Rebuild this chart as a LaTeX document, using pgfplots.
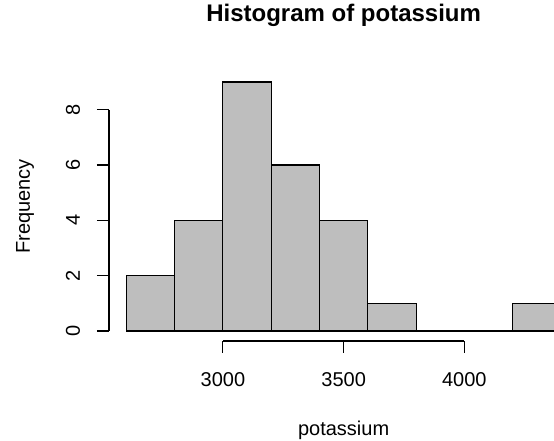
\documentclass[border=0pt]{standalone}
\usepackage{pgfplots}
\pgfplotsset{compat=1.18}
\usepackage{fontspec}
\setmainfont{Liberation Sans}
\definecolor{rgray}{RGB}{190,190,190}
\begin{document}
\begin{tikzpicture}
\useasboundingbox (0,0) rectangle (554pt,441pt);
\clip (0,0) rectangle (554pt,441pt);
\begin{axis}[
  at={(109pt,100pt)}, anchor=south west,
  scale only axis, width=469.3pt, height=269pt,
  xmin=2528, xmax=4472, ymin=-0.36, ymax=9.36,
  axis line style={draw=none},
  tick pos=left, tick align=outside,
  major tick length=12pt,
  every tick/.style={black, line width=1.1pt},
  xtick={3000,3500,4000},
  ytick={0,2,4,6,8},
  /pgf/number format/assume math mode=true,
  /pgf/number format/1000 sep={},
  tick label style={font=\fontsize{20}{24}\selectfont, inner sep=0pt},
  xticklabel style={anchor=base},
  xticklabel shift=34pt,
  yticklabel style={rotate=90, anchor=base},
  yticklabel shift=17pt,
  title={Histogram of potassium},
  title style={at={(axis description cs:0.5,1.1636)}, anchor=base, inner sep=0pt, font=\fontsize{24}{28.8}\selectfont\bfseries},
  xlabel={potassium},
  xlabel style={at={(axis description cs:0.5,-0.3497)}, anchor=base, inner sep=0pt, font=\fontsize{20}{24}\selectfont},
  ylabel={Frequency},
  ylabel style={at={(axis description cs:-0.1685,0.5)}, anchor=base, rotate=0, inner sep=0pt, font=\fontsize{20}{24}\selectfont},
  clip=false,
]
\addplot[ybar interval, fill=rgray, draw=black, line width=1.1pt] coordinates {
  (2600,2) (2800,4) (3000,9) (3200,6) (3400,4) (3600,1) (3800,0) (4000,0) (4200,1) (4400,1)
};
\addplot[black, line width=1.1pt] coordinates {(3000,-0.36) (4000,-0.36)};
\addplot[black, line width=1.1pt] coordinates {(2528,0) (2528,8)};
\end{axis}
\end{tikzpicture}
\end{document}
